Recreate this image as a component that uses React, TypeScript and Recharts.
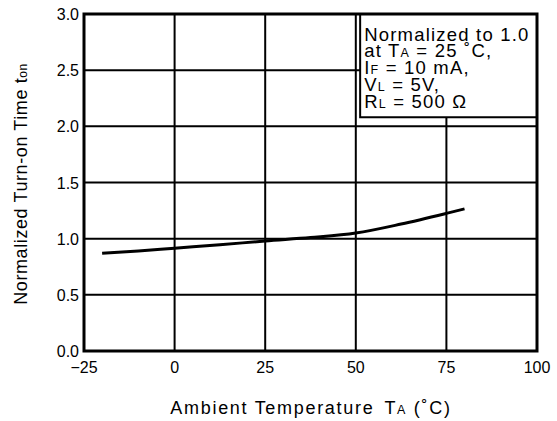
import { LineChart, Line, XAxis, YAxis, CartesianGrid, ReferenceArea } from 'recharts'

// turn-on time vs. ambient temperature, normalized to 1.0 at 25 °C
const temps = [-20, -10, 0, 12.5, 25, 37.5, 50, 62.5, 75, 80]
const tOn = [0.87, 0.89, 0.915, 0.945, 0.98, 1.01, 1.05, 1.13, 1.225, 1.265]

const xTicks = [-25, 0, 25, 50, 75, 100]
const yTicks = [0, 0.5, 1, 1.5, 2, 2.5, 3]

// [text, isSubscript]
const noteLines: [string, boolean][][] = [
  [['Normalized to 1.0', false]],
  [['at T', false], ['A', true], [' = 25 ˚C,', false]],
  [['I', false], ['F', true], [' = 10 mA,', false]],
  [['V', false], ['L', true], [' = 5V,', false]],
  [['R', false], ['L', true], [' = 500 Ω', false]],
]

const data = temps.map((t, i) => ({ t, v: tOn[i] }))

const FONT = '"Liberation Sans", Arial, Helvetica, sans-serif'

const fmtX = (v: number) => (v < 0 ? `−${Math.abs(v)}` : String(v))

function XTick(props: any) {
  const { x, payload } = props
  return (
    <text x={x} y={373} textAnchor="middle" fontFamily={FONT} fontSize={16} fill="#000">
      {fmtX(payload.value)}
    </text>
  )
}

function YTick(props: any) {
  const { y, payload } = props
  return (
    <text x={79} y={y + 6} textAnchor="end" fontFamily={FONT} fontSize={16} fill="#000">
      {payload.value.toFixed(1)}
    </text>
  )
}

// conditions box in the top-right corner
function Note(props: any) {
  const { viewBox } = props
  const x0 = viewBox.x + 4
  const y0 = viewBox.y + 26.5
  return (
    <g>
      {noteLines.map((segs, i) => (
        <text key={i} x={x0} y={y0 + i * 16.9} fontFamily={FONT} fontSize={18.5} letterSpacing={1.2} fill="#000">
          {segs.map(([s, sub], j) => (
            <tspan key={j} fontSize={sub ? 12.5 : 18.5} xmlSpace="preserve">
              {s}
            </tspan>
          ))}
        </text>
      ))}
    </g>
  )
}

export default function App() {
  return (
    <div style={{ position: 'fixed', left: 0, top: 0, background: '#fff' }}>
      <LineChart
        width={557}
        height={421}
        data={data}
        margin={{ top: 14, right: 20, left: 0, bottom: 0 }}
      >
        <CartesianGrid stroke="#000" strokeWidth={2} />
        <XAxis
          dataKey="t"
          type="number"
          domain={[-25, 100]}
          ticks={xTicks}
          height={70}
          tickLine={false}
          axisLine={false}
          tick={<XTick />}
          label={() => (
            <text x={311} y={414} textAnchor="middle" fontFamily={FONT} fontSize={18} letterSpacing={1.7} fill="#000">
              Ambient Temperature<tspan dx={10}>T</tspan>
              <tspan fontSize={12.5}>A</tspan> (˚C)
            </text>
          )}
        />
        <YAxis
          type="number"
          domain={[0, 3]}
          ticks={yTicks}
          width={84}
          tickLine={false}
          axisLine={false}
          tick={<YTick />}
          label={() => (
            <text
              x={27}
              y={184}
              transform="rotate(-90 27 184)"
              textAnchor="middle"
              fontFamily={FONT}
              fontSize={18}
              letterSpacing={0.6}
              fill="#000"
            >
              Normalized Turn-on Time t<tspan fontSize={12}>on</tspan>
            </text>
          )}
        />
        <ReferenceArea
          x1={51.2}
          x2={100}
          y1={2.08}
          y2={3}
          fill="#fff"
          fillOpacity={1}
          stroke="#000"
          strokeWidth={2}
          label={<Note />}
        />
        <ReferenceArea x1={-25} x2={100} y1={0} y2={3} fill="none" stroke="#000" strokeWidth={3} />
        <Line
          type="monotone"
          dataKey="v"
          stroke="#000"
          strokeWidth={3}
          dot={false}
          isAnimationActive={false}
        />
      </LineChart>
    </div>
  )
}
